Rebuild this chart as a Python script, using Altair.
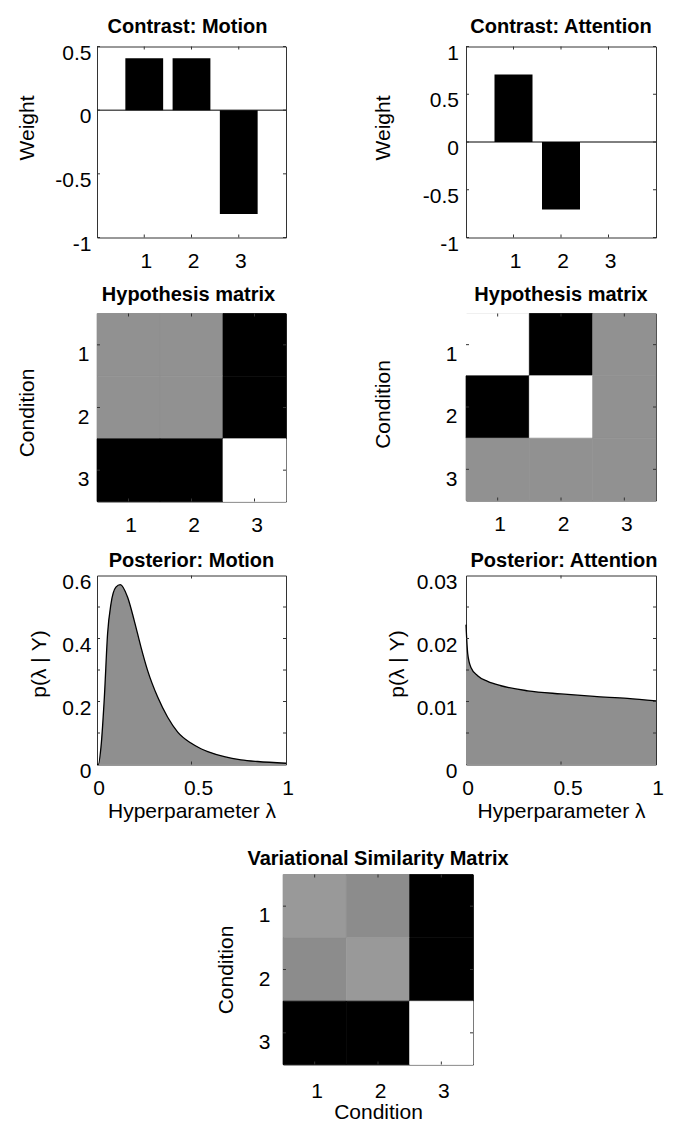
import altair as alt
import pandas as pd

# ---------------- data ----------------
conditions = [1, 2, 3]
motion_weights = [0.408, 0.408, -0.816]
attention_weights = [0.707, -0.707, 0.0]

hyp_motion = [[0.167, 0.167, -0.333],
              [0.167, 0.167, -0.333],
              [-0.333, -0.333, 0.667]]
hyp_attention = [[0.5, -0.5, 0.0],
                 [-0.5, 0.5, 0.0],
                 [0.0, 0.0, 0.0]]
similarity = [[0.267, 0.216, -0.333],
              [0.216, 0.267, -0.333],
              [-0.333, -0.333, 0.667]]

lam_motion = [0.0, 0.007, 0.021, 0.039, 0.056, 0.074, 0.10, 0.123, 0.162, 0.197,
              0.233, 0.268, 0.321, 0.374, 0.427, 0.497, 0.55, 0.586, 0.674, 0.762,
              0.85, 1.0]
p_motion = [0.0, 0.0, 0.055, 0.214, 0.415, 0.51, 0.563, 0.571, 0.531, 0.457,
            0.372, 0.298, 0.214, 0.150, 0.103, 0.068, 0.05, 0.041, 0.025, 0.015,
            0.0095, 0.004]
lam_attention = [0.0, 0.009, 0.026, 0.061, 0.114, 0.184, 0.325, 0.5, 0.675, 0.85, 1.0]
p_attention = [0.0222, 0.0176, 0.0154, 0.0141, 0.0132, 0.0125, 0.0117, 0.0112,
               0.0108, 0.0105, 0.0101]

bar_x_ticks = [1, 2, 3]
motion_y_ticks = [-1, -0.5, 0, 0.5]
attention_y_ticks = [-1, -0.5, 0, 0.5, 1]
post_x_ticks = [0, 0.5, 1]
post_m_y_ticks = [0, 0.2, 0.4, 0.6]
post_a_y_ticks = [0, 0.01, 0.02, 0.03]
post_m_minor = [0.1, 0.2, 0.3, 0.4, 0.5]
post_a_minor = [0.005, 0.01, 0.015, 0.02, 0.025]

# ---------------- style ----------------
FONT = "Liberation Sans"
FRAME = "#333333"
GRAY = "#8f8f8f"
LABEL_EXPR = ("datum.value < 0 ? '-' + format(-datum.value, '~g') "
              ": format(datum.value, '~g')")
TL = 3  # inside tick length


def axis_common(**kw):
    base = dict(ticks=False, tickSize=0, domain=False, grid=False,
                labelFont=FONT, titleFont=FONT, labelFontSize=21, titleFontSize=21,
                labelColor="black", titleColor="black", titleFontWeight="normal",
                labelFlush=False, labelOverlap=False, labelExpr=LABEL_EXPR)
    base.update(kw)
    return alt.Axis(**base)


def yax(values, title, E, pad, off, ty):
    return axis_common(values=values, title=title, minExtent=E, maxExtent=E,
                       titlePadding=0, labelPadding=pad, labelOffset=off, titleY=ty)


def xax(values, pad, off=1.5, title=None, E=30, tp=0):
    if title:
        return axis_common(values=values, labelPadding=pad, labelOffset=off,
                           title=title, minExtent=E, maxExtent=E, titlePadding=tp)
    return axis_common(values=values, labelPadding=pad, labelOffset=off, title=None)


def ptitle(text, offset, dx=0):
    return alt.TitleParams(text=text, font=FONT, fontSize=20, fontWeight="bold",
                           color="black", anchor="middle", baseline="alphabetic",
                           offset=offset, dx=dx)


def inside_ticks(xv, yv, xs, ys, w, h):
    tx = pd.DataFrame({"v": xv})
    ty = pd.DataFrame({"v": yv})
    bx = alt.Chart(tx).mark_rule(color=FRAME, strokeWidth=1)
    by = alt.Chart(ty).mark_rule(color=FRAME, strokeWidth=1)
    X = alt.X("v:Q", scale=xs)
    Y = alt.Y("v:Q", scale=ys)
    return [
        bx.encode(x=X, y=alt.value(0), y2=alt.value(TL)),
        bx.encode(x=X, y=alt.value(h - TL), y2=alt.value(h)),
        by.encode(y=Y, x=alt.value(0), x2=alt.value(TL)),
        by.encode(y=Y, x=alt.value(w - TL), x2=alt.value(w)),
    ]


def bar_panel(weights, yticks, ydom, title, w, h, E, pad, ty, toff, dx=0):
    df = pd.DataFrame({"cond": conditions, "w": weights})
    xs = alt.Scale(domain=[0, 4], nice=False, zero=False)
    ys = alt.Scale(domain=ydom, nice=False, zero=False)
    bars = alt.Chart(df).transform_calculate(
        x0="datum.cond - 0.4", x1="datum.cond + 0.4"
    ).mark_bar(color="black").encode(
        x=alt.X("x0:Q", scale=xs, axis=xax(bar_x_ticks, 12.5)),
        x2="x1:Q",
        y=alt.Y("w:Q", scale=ys, axis=yax(yticks, "Weight", E, pad, 6.5, ty)),
        y2=alt.datum(0),
    )
    zero = alt.Chart(pd.DataFrame({"z": [0]})).mark_rule(color="black", strokeWidth=1).encode(
        y=alt.Y("z:Q", scale=ys), x=alt.value(0), x2=alt.value(w))
    layers = [bars, zero] + inside_ticks(bar_x_ticks, yticks, xs, ys, w, h)
    return alt.layer(*layers).properties(width=w, height=h, title=ptitle(title, toff, dx))


def heat_panel(mat, cdom, crange, title, w, h, E, pad, off, ty, toff, xpad=12.5,
               xtitle=None, xE=30, xtp=0, dx=0):
    rows, cols, vals = [], [], []
    for i, row in enumerate(mat):
        for j, v in enumerate(row):
            rows.append(conditions[i]); cols.append(conditions[j]); vals.append(v)
    df = pd.DataFrame({"r": rows, "c": cols, "v": vals})
    xs = alt.Scale(domain=[0.5, 3.5], nice=False, zero=False)
    ys = alt.Scale(domain=[0.5, 3.5], nice=False, zero=False, reverse=True)
    cscale = alt.Scale(domain=cdom, range=crange, interpolate="rgb")
    rect = alt.Chart(df).transform_calculate(
        x0="datum.c - 0.5", x1="datum.c + 0.5", y0="datum.r - 0.5", y1="datum.r + 0.5"
    ).mark_rect(strokeWidth=0.7).encode(
        x=alt.X("x0:Q", scale=xs, axis=xax(conditions, xpad, 2, xtitle, xE, xtp)),
        x2="x1:Q",
        y=alt.Y("y0:Q", scale=ys, axis=yax(conditions, "Condition", E, pad, off, ty)),
        y2="y1:Q",
        color=alt.Color("v:Q", scale=cscale, legend=None),
        stroke=alt.Stroke("v:Q", scale=cscale, legend=None),
    )
    layers = [rect] + inside_ticks(conditions, conditions, xs, ys, w, h)
    return alt.layer(*layers).properties(width=w, height=h, title=ptitle(title, toff, dx))


POST_X_OFFSET = {"condition": {"test": "datum.value == 0.5", "value": 6.5}, "value": 1.5}


def post_panel(lam, p, yticks, minor, ydom, title, w, h, E, pad, ty, toff, dx=0):
    df = pd.DataFrame({"lam": lam, "p": p})
    xs = alt.Scale(domain=[0, 1], nice=False, zero=False)
    ys = alt.Scale(domain=ydom, nice=False, zero=False)
    base = alt.Chart(df)
    area = base.mark_area(color=GRAY, interpolate="monotone").encode(
        x=alt.X("lam:Q", scale=xs,
                axis=xax(post_x_ticks, 12.5, POST_X_OFFSET, "Hyperparameter λ", 33, 3)),
        y=alt.Y("p:Q", scale=ys, axis=yax(yticks, "p(λ | Y)", E, pad, 6.5, ty)),
    )
    line = base.mark_line(color="black", strokeWidth=1.3, interpolate="monotone").encode(
        x=alt.X("lam:Q", scale=xs), y=alt.Y("p:Q", scale=ys))
    layers = [area, line] + inside_ticks([0.5], minor, xs, ys, w, h)
    return alt.layer(*layers).properties(width=w, height=h, title=ptitle(title, toff, dx))


c_m = bar_panel(motion_weights, motion_y_ticks, [-1, 0.5], "Contrast: Motion",
                189, 191, 59.3, 6, 81, -10.7, dx=-4)
c_a = bar_panel(attention_weights, attention_y_ticks, [-1, 1], "Contrast: Attention",
                190, 191, 72.3, 7.5, 81, -10.7)

gray3 = ["#000000", "#919191", "#ffffff"]
h_m = heat_panel(hyp_motion, [-0.333, 0.167, 0.667], gray3, "Hypothesis matrix",
                 189, 188, 60, 8, 9.7, 99, -7.5, dx=-3)
h_a = heat_panel(hyp_attention, [-0.5, 0.0, 0.5], gray3, "Hypothesis matrix",
                 190, 187, 72.3, 9, 9.7, 90.5, -7.5)

p_m = post_panel(lam_motion, p_motion, post_m_y_ticks, post_m_minor, [0, 0.6],
                 "Posterior: Motion", 189, 189, 47.3, 6, 88, -16.2)
p_a = post_panel(lam_attention, p_attention, post_a_y_ticks, post_a_minor, [0, 0.03],
                 "Posterior: Attention", 190, 189, 59, 9, 88, -16.2, dx=3)

vsm = heat_panel(similarity, [-0.333, 0.667], ["#000000", "#ffffff"],
                 "Variational Similarity Matrix", 190, 190, 46.6, 13, 9.5, 95, -10.8,
                 xpad=15.5, xtitle="Condition", xE=34, xtp=3.4)

spacer = alt.Chart(pd.DataFrame({"a": [0]})).mark_point(opacity=0, size=1).encode(
    x=alt.value(0), y=alt.value(0)
).properties(width=117, height=10, view=alt.ViewBackground(strokeOpacity=0))


def indep(c):
    return c.resolve_scale(color="independent", stroke="independent")


row1 = indep(alt.hconcat(c_m, c_a, spacing=85))
row2 = indep(alt.hconcat(h_m, h_a, spacing=85))
row3 = indep(alt.hconcat(p_m, p_a, spacing=91))
row4 = indep(alt.hconcat(spacer, vsm, spacing=0))

chart = indep(alt.vconcat(
    indep(alt.vconcat(row1, row2, spacing=12)),
    indep(alt.vconcat(row3, row4, spacing=25)),
    spacing=15,
)).configure_view(
    stroke=FRAME, strokeWidth=1
).properties(
    padding={"left": 7, "top": 7.5, "right": 0, "bottom": 0},
    background="white",
)

chart.save("out.html", embed_options={"renderer": "svg", "actions": False})
